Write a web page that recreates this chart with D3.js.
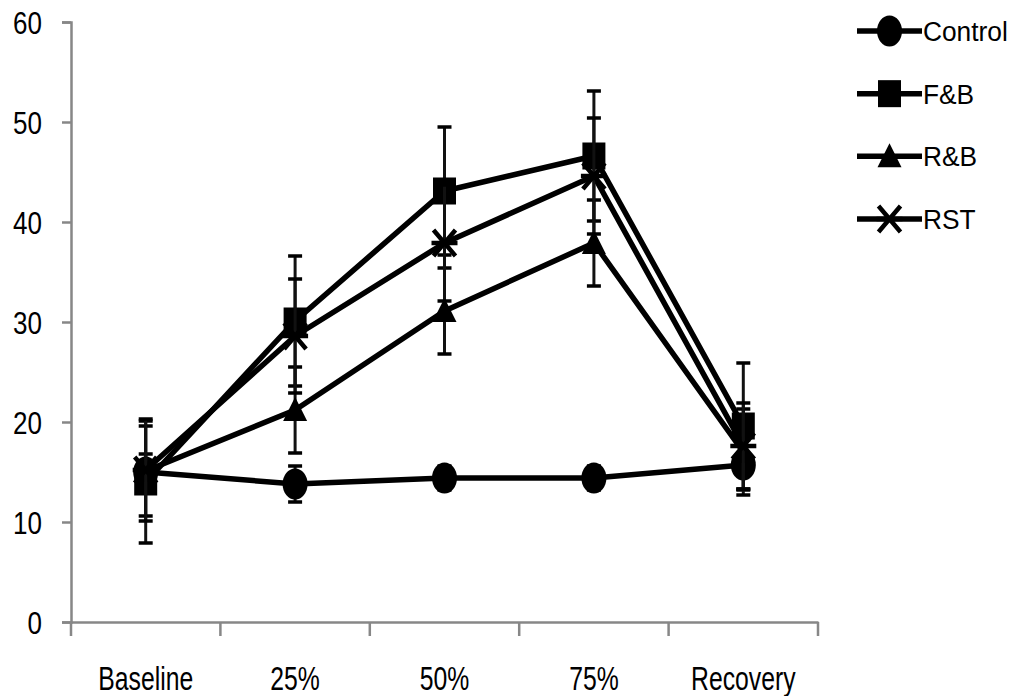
<!DOCTYPE html>
<html>
<head>
<meta charset="utf-8">
<script src="https://cdn.jsdelivr.net/npm/d3@7"></script>
<style>
  html, body { margin: 0; padding: 0; background: #fff; }
  svg text { font-family: "Liberation Sans", Arial, sans-serif; fill: #000; }
</style>
</head>
<body>
<svg id="chart" width="1014" height="696"></svg>
<script>
const categories = ["Baseline", "25%", "50%", "75%", "Recovery"];
const yTicks = [0, 10, 20, 30, 40, 50, 60];
const seriesNames = ["Control", "F&B", "R&B", "RST"];
const seriesSymbols = ["circle", "square", "triangle", "cross"];
const controlValues = [15.0, 13.8, 14.4, 14.4, 15.7];
const controlErrors = [1.8, 1.8, 1.2, 1.2, 2.5];
const fbValues = [14.0, 30.1, 43.1, 46.6, 19.6];
const fbErrors = [6.1, 6.5, 6.4, 6.5, 6.3];
const rbValues = [15.1, 21.2, 31.1, 37.9, 17.0];
const rbErrors = [4.5, 4.3, 4.3, 4.3, 4.3];
const rstValues = [15.2, 28.6, 37.9, 44.6, 17.6];
const rstErrors = [5.1, 5.7, 5.8, 5.8, 4.3];

const seriesValues = [controlValues, fbValues, rbValues, rstValues];
const seriesErrors = [controlErrors, fbErrors, rbErrors, rstErrors];
const series = seriesNames.map((name, i) => ({
  name, symbol: seriesSymbols[i],
  points: categories.map((c, j) => ({ cat: c, v: seriesValues[i][j], e: seriesErrors[i][j] }))
}));

const svg = d3.select("#chart");
const x = d3.scaleBand().domain(categories).range([71, 818]);
const y = d3.scaleLinear().domain([0, 60]).range([622, 22]);
const axisColor = "#878787";

// compress text horizontally around its anchor point (narrow look of the original)
function squeeze(sel, factor) {
  sel.each(function() {
    const t = d3.select(this);
    const ax = +t.attr("x") || 0;
    const ay = +t.attr("y") || 0;
    t.attr("x", 0).attr("y", 0)
      .attr("transform", `translate(${ax},${ay}) scale(${factor},1)`);
  });
}

// Y axis
const yAxis = svg.append("g").attr("transform", "translate(71,0)")
  .call(d3.axisLeft(y).tickValues(yTicks).tickSize(9).tickPadding(20).tickFormat(d3.format("d")));
yAxis.select(".domain").attr("stroke", axisColor).attr("stroke-width", 2.5);
yAxis.selectAll(".tick line").attr("stroke", axisColor).attr("stroke-width", 2.5);
yAxis.selectAll(".tick text").attr("font-size", 31).attr("dy", "0.36em")
  .style("font-family", '"Liberation Sans", Arial, sans-serif');
squeeze(yAxis.selectAll(".tick text"), 0.84);

// X axis
const xAxis = svg.append("g").attr("transform", "translate(0,622)")
  .call(d3.axisBottom(x).tickSize(0).tickPadding(0));
xAxis.select(".domain").attr("stroke", axisColor).attr("stroke-width", 2.5);
xAxis.selectAll(".tick text").attr("font-size", 33).attr("y", 68).attr("dy", 0)
  .style("font-family", '"Liberation Sans", Arial, sans-serif');
squeeze(xAxis.selectAll(".tick text"), 0.75);
// boundary tick marks between categories
const bounds = categories.map(c => x(c)).concat([x.range()[1]]);
xAxis.selectAll("line.bound").data(bounds).enter().append("line")
  .attr("class", "bound")
  .attr("x1", d => d).attr("x2", d => d).attr("y1", 0).attr("y2", 14)
  .attr("stroke", axisColor).attr("stroke-width", 2.5);

const cx = c => x(c) + x.bandwidth() / 2;

function drawMarker(g, symbol) {
  if (symbol === "circle") {
    g.append("ellipse").attr("rx", 12.5).attr("ry", 15.5).attr("fill", "#000");
  } else if (symbol === "square") {
    g.append("rect").attr("x", -11.5).attr("y", -13.5).attr("width", 23).attr("height", 27).attr("fill", "#000");
  } else if (symbol === "triangle") {
    g.append("path").attr("d", "M0,-13 L12,11 L-12,11 Z").attr("fill", "#000");
  } else if (symbol === "cross") {
    g.append("path").attr("d", "M-11,-13 L11,13 M11,-13 L-11,13 M-13,0 L13,0")
      .attr("stroke", "#000").attr("stroke-width", 4.5).attr("fill", "none");
  }
}

const line = d3.line().x(d => cx(d.cat)).y(d => y(d.v));
const plot = svg.append("g");

series.forEach(s => {
  const g = plot.append("g");
  g.append("path").datum(s.points).attr("d", line)
    .attr("fill", "none").attr("stroke", "#000").attr("stroke-width", 5.5)
    .attr("stroke-linejoin", "round");
  // error bars
  const eb = g.selectAll("g.eb").data(s.points).enter().append("g").attr("class", "eb");
  eb.append("line")
    .attr("x1", d => cx(d.cat)).attr("x2", d => cx(d.cat))
    .attr("y1", d => y(d.v + d.e)).attr("y2", d => y(d.v - d.e))
    .attr("stroke", "#111").attr("stroke-width", 3);
  [1, -1].forEach(sign => {
    eb.append("line")
      .attr("x1", d => cx(d.cat) - 7).attr("x2", d => cx(d.cat) + 7)
      .attr("y1", d => y(d.v + sign * d.e)).attr("y2", d => y(d.v + sign * d.e))
      .attr("stroke", "#000").attr("stroke-width", 3.5);
  });
  // markers
  g.selectAll("g.mk").data(s.points).enter().append("g").attr("class", "mk")
    .attr("transform", d => `translate(${cx(d.cat)},${y(d.v)})`)
    .each(function() { drawMarker(d3.select(this), s.symbol); });
});

// Legend
const legend = svg.append("g");
const legendY = d3.scalePoint().domain(seriesNames).range([31, 219]);
seriesNames.forEach((name, i) => {
  const ly = legendY(name);
  const g = legend.append("g");
  g.append("line").attr("x1", 857).attr("x2", 922).attr("y1", ly).attr("y2", ly)
    .attr("stroke", "#000").attr("stroke-width", 5.5);
  const m = g.append("g").attr("transform", `translate(889.5,${ly})`);
  drawMarker(m, seriesSymbols[i]);
  const t = g.append("text").attr("x", 923).attr("y", ly + 10)
    .attr("font-size", 28).text(name);
  squeeze(t, 0.94);
});
</script>
</body>
</html>
